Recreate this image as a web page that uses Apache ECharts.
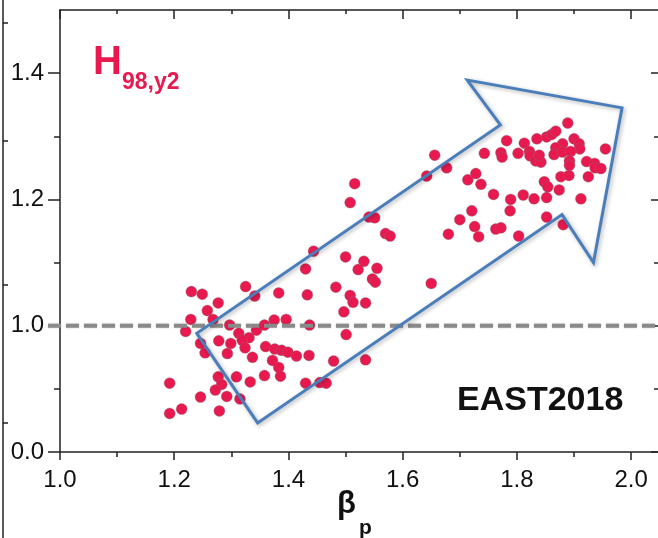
<!DOCTYPE html>
<html>
<head>
<meta charset="utf-8">
<script src="https://cdn.jsdelivr.net/npm/echarts@6/dist/echarts.min.js"></script>
<style>
html,body{margin:0;padding:0;background:#fff;}
#chart{width:658px;height:538px;}
</style>
</head>
<body>
<div id="chart"></div>
<script>
// ---- data ----
const betaP = [1.230,1.249,1.258,1.277,1.229,1.268,1.220,1.297,1.325,1.341,1.313,1.331,1.319,1.278,1.299,1.246,1.324,1.293,1.254,1.337,
  1.192,1.277,1.309,1.333,1.283,1.272,1.292,1.246,1.315,1.213,1.192,1.279,1.344,
  1.358,1.375,1.396,1.383,1.433,1.430,1.483,1.497,1.508,1.513,1.437,1.501,1.360,1.376,1.388,1.399,1.414,1.436,1.372,1.383,1.386,1.358,
  1.479,1.430,1.455,1.466,1.444,
  1.516,1.508,1.541,1.551,1.570,1.578,1.500,1.532,1.522,1.555,1.547,1.552,1.650,1.535,1.535,1.642,1.656,1.677,1.680,
  1.700,1.714,1.728,1.721,1.726,1.733,1.737,1.743,1.759,1.763,1.772,1.772,1.774,1.782,1.789,1.788,1.803,1.802,1.811,1.813,
  1.822,1.823,1.830,1.835,1.833,1.842,1.839,1.852,1.861,1.868,1.889,1.900,1.909,1.880,1.868,1.955,1.910,1.865,1.880,1.894,
  1.892,1.892,1.922,1.936,1.937,1.947,1.925,1.877,1.891,1.848,1.854,1.874,1.852,1.912,1.852,1.881];
const h98y2 = [1.054,1.050,1.024,1.036,1.010,1.010,0.991,1.001,1.062,1.047,0.988,0.981,0.977,0.976,0.972,0.972,0.965,0.956,0.957,0.950,
  0.909,0.919,0.919,0.911,0.907,0.898,0.888,0.887,0.884,0.868,0.861,0.865,0.993,
  1.001,1.009,1.010,1.052,1.049,1.090,1.061,1.022,1.048,1.037,1.001,0.986,0.967,0.963,0.961,0.958,0.952,0.953,0.945,0.934,0.920,0.921,
  0.944,0.909,0.910,0.909,1.118,
  1.225,1.195,1.172,1.171,1.146,1.142,1.109,1.102,1.089,1.091,1.074,1.069,1.067,1.036,0.946,1.237,1.270,1.250,1.145,
  1.168,1.231,1.241,1.182,1.157,1.141,1.224,1.273,1.208,1.153,1.155,1.274,1.267,1.293,1.200,1.182,1.142,1.273,1.207,1.289,
  1.276,1.269,1.201,1.296,1.261,1.259,1.270,1.299,1.303,1.308,1.321,1.296,1.288,1.288,1.282,1.280,1.280,1.271,1.275,1.276,
  1.261,1.254,1.260,1.257,1.250,1.249,1.236,1.236,1.238,1.228,1.220,1.215,1.203,1.201,1.172,1.160];

const xMajorTicks = [1.0,1.2,1.4,1.6,1.8,2.0];
const xMinorTicks = [1.1,1.3,1.5,1.7,1.9];
const yMajorTicks = [0.8,1.0,1.2,1.4];
const yMinorTicks = [0.9,1.1,1.3];
const yTickLabels = ['0.0','1.0','1.2','1.4'];
const xRange = [1.0, 2.047];
const yRange = [0.8, 1.5];
const refLevel = 1.0;
const refLineX = [0.979, 2.047];
// arrow annotation vertices (data coordinates)
const arrowX = [1.346,1.2395,1.771,1.713,1.984,1.934,1.879];
const arrowY = [0.846,0.988,1.318,1.389,1.345,1.100,1.176];

const RED = '#e8194f';
const AX = '#222';
const FONT = '"Liberation Sans", Arial, sans-serif';

const points = betaP.map((b,i)=>[b,h98y2[i]]);

function xAxisDef(pos, ticks, len, inside, showLine, labels){
  return {
    type:'value', position:pos, min:xRange[0], max:xRange[1], offset:0,
    axisLine:{show:showLine, onZero:false, lineStyle:{color:AX,width:1.5}},
    axisTick:{show:true, inside:inside, length:len, customValues:ticks, lineStyle:{color:AX,width:1.5}},
    axisLabel: labels ? {show:true, customValues:xMajorTicks, margin:16, color:'#111', fontSize:24,
      fontFamily:FONT, formatter:v=>v.toFixed(1)} : {show:false},
    splitLine:{show:false}
  };
}
function yAxisDef(pos, ticks, len, inside, showLine, labels){
  return {
    type:'value', position:pos, min:yRange[0], max:yRange[1], offset:0,
    axisLine:{show:showLine, onZero:false, lineStyle:{color:AX,width:1.5}},
    axisTick:{show:true, inside:inside, length:len, customValues:ticks, lineStyle:{color:AX,width:1.5}},
    axisLabel: labels ? {show:true, customValues:yMajorTicks, margin:16, color:'#111', fontSize:24,
      fontFamily:FONT,
      formatter:v=>{const k=yMajorTicks.findIndex(t=>Math.abs(t-v)<1e-6);return k>=0?yTickLabels[k]:'';}} : {show:false},
    splitLine:{show:false}
  };
}

const chart = echarts.init(document.getElementById('chart'));
chart.setOption({
  backgroundColor:'#fff',
  animation:false,
  grid:{left:60, top:10, width:599, height:442},
  xAxis:[
    xAxisDef('bottom', xMajorTicks, 8, false, true, true),
    xAxisDef('bottom', xMinorTicks, 5, false, false, false),
    xAxisDef('top', xMajorTicks, 9, true, true, false),
    xAxisDef('top', xMinorTicks, 4, true, false, false)
  ],
  yAxis:[
    yAxisDef('left', yMajorTicks, 12, false, true, true),
    yAxisDef('left', yMinorTicks, 6, false, false, false),
    yAxisDef('right', yMajorTicks, 7, true, false, false),
    yAxisDef('right', yMinorTicks, 4, true, false, false)
  ],
  series:[
    {
      type:'scatter', data:points, symbol:'circle', symbolSize:11, z:2,
      itemStyle:{color:RED, opacity:1, borderColor:'rgba(120,120,120,0.45)', borderWidth:0.8}
    },
    {
      type:'custom', z:3, clip:false, silent:true,
      data:[[refLineX[0], refLevel]],
      renderItem:(params, api)=>{
        const a = api.coord([refLineX[0], refLevel]);
        const b = api.coord([refLineX[1], refLevel]);
        return {type:'line', shape:{x1:a[0],y1:a[1],x2:b[0],y2:b[1]},
          style:{stroke:'#8a8a8a', lineWidth:4, lineDash:[13,5], shadowBlur:2, shadowColor:'rgba(0,0,0,0.25)'}};
      }
    },
    {
      type:'custom', z:4, clip:false, silent:true,
      data:[[arrowX[0], arrowY[0]]],
      renderItem:(params, api)=>{
        const pts = arrowX.map((x,i)=>api.coord([x, arrowY[i]]));
        return {type:'polygon', shape:{points:pts},
          style:{fill:'none', stroke:'#4a7ebb', lineWidth:3, lineJoin:'miter',
            shadowBlur:4, shadowOffsetX:1.5, shadowOffsetY:1.5, shadowColor:'rgba(0,0,0,0.3)'}};
      }
    }
  ],
  graphic:[
    {type:'text', silent:true, z:10, x:93, y:62.5,
      style:{text:'H', fill:RED, font:'bold 40px ' + FONT, verticalAlign:'middle', align:'left'}},
    {type:'text', silent:true, z:10, x:122, y:82.5,
      style:{text:'98,y2', fill:RED, font:'bold 23px ' + FONT, verticalAlign:'middle', align:'left'}},
    {type:'text', silent:true, z:10, x:457, y:400.5,
      style:{text:'EAST2018', fill:'#111', font:'bold 34px ' + FONT, verticalAlign:'middle', align:'left'}},
    {type:'text', silent:true, z:10, x:337, y:504,
      style:{text:'β', fill:'#111', font:'bold 31px ' + FONT, verticalAlign:'middle', align:'left'}},
    {type:'text', silent:true, z:10, x:359, y:528,
      style:{text:'p', fill:'#111', font:'bold 21px ' + FONT, verticalAlign:'middle', align:'left'}},
    {type:'line', silent:true, shape:{x1:3,y1:0,x2:3,y2:538}, style:{stroke:AX, lineWidth:1.5}},
    {type:'line', silent:true, shape:{x1:3,y1:23,x2:8,y2:23}, style:{stroke:AX, lineWidth:1.5}},
    {type:'line', silent:true, shape:{x1:3,y1:141,x2:8,y2:141}, style:{stroke:AX, lineWidth:1.5}},
    {type:'line', silent:true, shape:{x1:3,y1:285,x2:8,y2:285}, style:{stroke:AX, lineWidth:1.5}},
    {type:'line', silent:true, shape:{x1:3,y1:423,x2:8,y2:423}, style:{stroke:AX, lineWidth:1.5}}
  ]
});
</script>
</body>
</html>
